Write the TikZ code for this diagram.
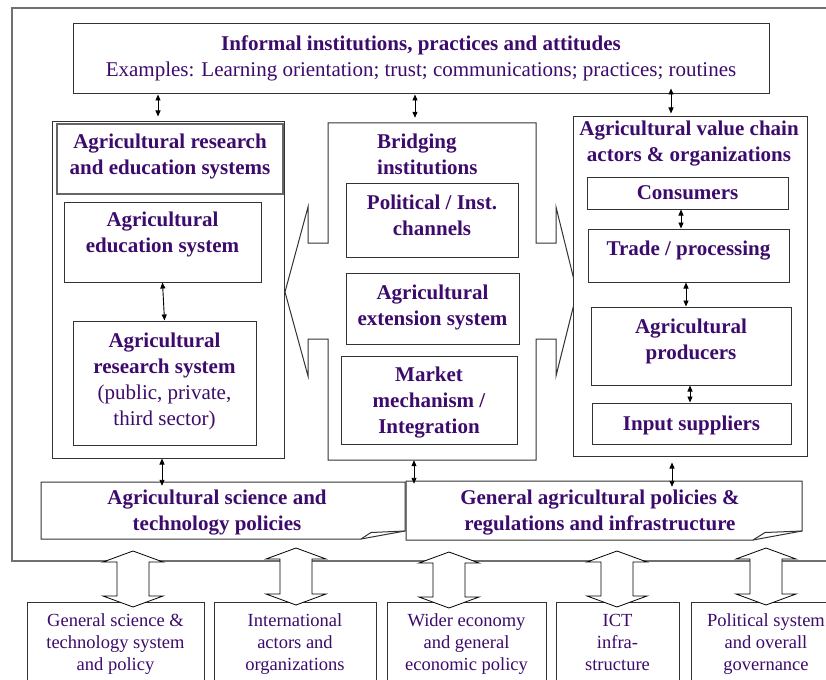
\documentclass[tikz,border=0pt]{standalone}
\usepackage{fontspec}
\setmainfont{Liberation Serif}
\usetikzlibrary{arrows.meta}
\definecolor{ink}{HTML}{3D0B6B}
\definecolor{rim}{HTML}{707070}

\tikzset{
  box/.style={draw=black!80, line width=1pt, fill=white, align=center, text=ink,
    inner sep=0pt, font=\fontsize{21}{26}\selectfont\bfseries},
  lift/.style={text depth=#1},
  title/.style={text=ink, inner sep=0pt, align=center, font=\fontsize{21}{26}\selectfont\bfseries},
  ebox/.style={draw=black!80, line width=1pt, fill=white, align=center, text=ink, anchor=north,
    inner xsep=0pt, inner ysep=11.4pt, text depth=40pt, font=\fontsize{18.5}{22}\selectfont},
  dar/.style={<->, >={Triangle[length=6pt,width=5pt]}, line width=0.9pt, black},
  fold/.style={draw=black!80, line width=1pt, fill=white}
}

% hollow double arrow: centre x, upper tip y, lower tip y
\newcommand{\bigarrow}[3]{%
  \draw[line width=0.8pt, fill=white] (#1,#2) -- (#1+30,#2+11) -- (#1+16,#2+11) -- (#1+16,#3-11)
    -- (#1+30,#3-11) -- (#1,#3) -- (#1-30,#3-11) -- (#1-16,#3-11) -- (#1-16,#2+11)
    -- (#1-30,#2+11) -- cycle;}

\begin{document}
\begin{tikzpicture}[x=1pt, y=-1pt]
  \useasboundingbox (0,0) rectangle (826,679);
  \clip (0,0) rectangle (826,679);

  % outer frame
  \draw[rim, line width=1.2pt] (830,8) -- (12,8) -- (12,561) -- (830,561);

  % informal institutions
  \node[box, minimum width=696pt, minimum height=70pt, lift=6.2pt] (inf) at (421,59)
    {Informal institutions, practices and attitudes\\\textmd{Examples: Learning orientation; trust; communications; practices; routines}};

  % research and education
  \node[box, minimum width=232pt, minimum height=336pt] (are) at (168,290) {};
  \node[box, draw=black!60, line width=1.8pt, minimum width=226pt, minimum height=70pt, lift=10.2pt] (areh) at (170,159)
    {Agricultural research\\and education systems};
  \node[box, minimum width=197pt, minimum height=80pt, lift=18.8pt] (edu) at (162.5,242) {Agricultural\\education system};
  \node[box, minimum width=183pt, minimum height=124pt, lift=8.2pt] (res) at (164.5,383)
    {Agricultural\\research system\\\textmd{(public, private,}\\\textmd{third sector)}};
  \draw[dar] (edu.south) -- (res.north);

  % bridging institutions
  \node[minimum width=208pt, minimum height=337pt, inner sep=0pt] (bri) at (432,291.5) {};
  \draw[line width=1pt, black!80] (328,243) -- (328,123) -- (536,123) -- (536,243) -- (556,243) -- (556,207)
    -- (577,292) -- (556,376) -- (556,339) -- (536,339) -- (536,460) -- (328,460) -- (328,339)
    -- (308,339) -- (308,376) -- (285,292) -- (308,207) -- (308,243) -- cycle;
  \node[title, anchor=west, align=left] (brit) at (377,154.6) {Bridging\\institutions};
  \node[box, minimum width=172pt, minimum height=74pt, lift=10.2pt] (pol) at (432,220) {Political / Inst.\\channels};
  \node[box, minimum width=173pt, minimum height=71pt, lift=7.2pt] (ext) at (432.5,308.5) {Agricultural\\extension system};
  \node[box, minimum width=176pt, minimum height=88pt, lift=0pt] (mkt) at (429,400) {Market\\mechanism /\\Integration};

  % value chain
  \node[box, minimum width=234pt, minimum height=339pt] (vca) at (690,286.5) {};
  \node[title] (vcat) at (689,143.5) {Agricultural value chain\\actors \& organizations};
  \node[box, minimum width=201pt, minimum height=32pt, lift=0pt] (con) at (687.5,193) {Consumers};
  \node[box, minimum width=201pt, minimum height=53pt, lift=13.8pt] (trd) at (688.5,255.5) {Trade / processing};
  \node[box, minimum width=200pt, minimum height=78pt, lift=13.6pt] (pro) at (691,346) {Agricultural\\producers};
  \node[box, minimum width=199pt, minimum height=41pt, lift=1pt] (inp) at (691.5,423.5) {Input suppliers};
  \draw[dar] (681,0 |- con.south) -- (681,0 |- trd.north);
  \draw[dar] (686,0 |- trd.south) -- (686,0 |- pro.north);
  \draw[dar] (690,0 |- pro.south) -- (690,0 |- inp.north);

  \draw[dar, shorten >=5pt] (158,0 |- inf.south) -- (158,0 |- are.north);
  \draw[dar, shorten >=5pt] (415,0 |- inf.south) -- (415,0 |- bri.north);
  \draw[dar, shorten <=-6pt, shorten >=3pt] (671,0 |- inf.south) -- (671,0 |- vca.north);

  % policies
  \draw[fold] (41,482) -- (405,482) -- (405,531) -- (371,532.5) -- (361,539) -- (41,539) -- cycle;
  \draw[fold] (361,539) -- (405,531);
  \node[title, minimum height=57pt] (ast) at (217,513) {Agricultural science and\\technology policies};
  \draw[fold] (406,481) -- (802,481) -- (802,531) -- (765,532.5) -- (753,540) -- (406,540) -- cycle;
  \draw[fold] (753,540) -- (802,531);
  \node[title, minimum height=59pt] (gen) at (600,512.5) {General agricultural policies \&\\regulations and infrastructure};
  \draw[dar, shorten >=-1.5pt] (162,0 |- are.south) -- (162,0 |- ast.north);
  \draw[dar, shorten >=-1pt] (414,0 |- bri.south) -- (414,0 |- gen.north);
  \draw[dar, shorten <=6pt, shorten >=-4pt] (672,0 |- vca.south) -- (672,0 |- gen.north);

  % wider environment
  \node[ebox, minimum width=177pt] (gst) at (115.5,602) {General science \&\\technology system\\and policy};
  \node[ebox, minimum width=162pt] (int) at (295,602) {International\\actors and\\organizations};
  \node[ebox, minimum width=159pt] (wid) at (466.5,602) {Wider economy\\and general\\economic policy};
  \node[ebox, minimum width=123pt] (ict) at (617.5,602) {ICT\\infra-\\structure};
  \node[ebox, minimum width=150pt] (pls) at (766,602) {Political system\\and overall\\governance};

  \bigarrow{133}{551}{607}
  \bigarrow{296}{548}{605}
  \bigarrow{449}{552}{608}
  \bigarrow{617}{551}{607}
  \bigarrow{766}{548}{605}
\end{tikzpicture}
\end{document}
